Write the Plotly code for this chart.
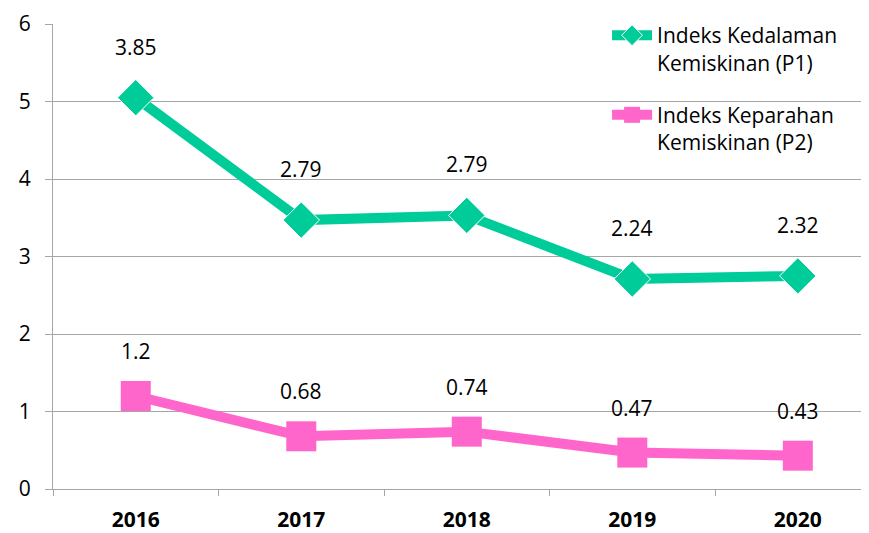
import plotly.graph_objects as go

years = ["2016", "2017", "2018", "2019", "2020"]
p1 = [3.85, 2.79, 2.79, 2.24, 2.32]   # Indeks Kedalaman Kemiskinan (P1)
p2 = [1.2, 0.68, 0.74, 0.47, 0.43]    # Indeks Keparahan Kemiskinan (P2)

GREEN = "#00cc99"
PINK = "#ff66cc"
FAMILY = "'Open Sans', sans-serif"
FONT = dict(family=FAMILY, color="#000000", size=21)

fig = go.Figure()

# stacked line chart: P2 at bottom, P1 stacked on top of it
fig.add_trace(go.Scatter(
    x=years, y=p2, name="Indeks Keparahan<br>Kemiskinan (P2)",
    stackgroup="s", fill="none", mode="lines+markers",
    line=dict(color=PINK, width=10),
    marker=dict(symbol="square", size=30, color=PINK),
    legendrank=2, legendgroup="p2", hoverinfo="skip",
))
fig.add_trace(go.Scatter(
    x=years, y=p1, name="Indeks Kedalaman<br>Kemiskinan (P1)",
    stackgroup="s", fill="none", mode="lines+markers",
    line=dict(color=GREEN, width=10),
    marker=dict(symbol="diamond", size=28, color=GREEN,
                line=dict(color="white", width=1)),
    legendrank=1, legendgroup="p1", hoverinfo="skip",
))

# data labels above each marker (x given as category index)
p1_top = [a + b for a, b in zip(p1, p2)]
for i in range(len(years)):
    fig.add_annotation(x=i, y=p1_top[i], text=str(p1[i]), showarrow=False,
                       yshift=51, font=FONT)
    fig.add_annotation(x=i, y=p2[i], text=str(p2[i]), showarrow=False,
                       yshift=45, font=FONT)

fig.update_layout(
    width=869, height=533,
    paper_bgcolor="white", plot_bgcolor="white",
    font=FONT,
    margin=dict(l=45, r=8, t=15, b=52),
    legend=dict(x=0.679, y=1.017, xanchor="left", yanchor="top",
                valign="top", bgcolor="rgba(0,0,0,0)",
                font=dict(size=21, family=FAMILY),
                tracegroupgap=22, itemwidth=40),
    xaxis=dict(type="category", range=[-0.5, 4.43], automargin=False,
               showgrid=False, showline=True, linecolor="#a6a6a6",
               ticks="outside", tickcolor="#a6a6a6", ticklen=6,
               tickson="boundaries", ticklabelstandoff=12,
               tickfont=dict(size=21, family=FAMILY, weight="bold")),
    yaxis=dict(range=[0, 6], dtick=1, showgrid=True, gridcolor="#a6a6a6",
               showline=True, linecolor="#a6a6a6", zeroline=False,
               automargin=False, ticklabelstandoff=10,
               ticks="outside", tickcolor="#a6a6a6", ticklen=7,
               tickfont=dict(size=21)),
)

fig.write_html("out.html")
